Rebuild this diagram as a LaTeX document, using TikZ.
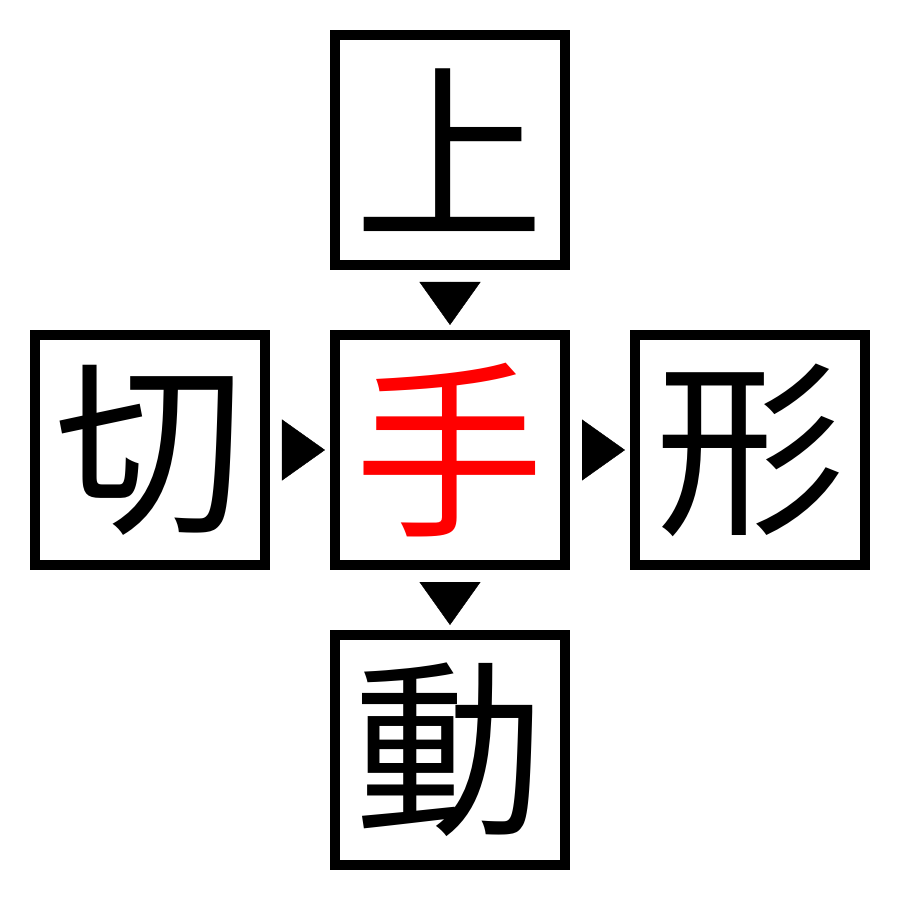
\documentclass[tikz,border=0pt]{standalone}
\usepackage{fontspec}
\newfontfamily\cjk{Noto Sans CJK JP}
\usetikzlibrary{positioning,arrows.meta}

\tikzset{
	kanji/.style={draw=black, line width=10pt, minimum size=230pt, inner sep=0pt,
		font=\cjk\fontsize{190}{190}\selectfont},
	pointer/.style={line width=0.4pt, shorten <=12pt, shorten >=5pt,
		-{Triangle[length=43pt,width=61pt]}}
}

\begin{document}
\begin{tikzpicture}[x=1pt,y=1pt,node distance=60pt]
		\useasboundingbox (-450,-450) rectangle (450,450);
		\node[kanji,text=red] (mid) at (0,0) {手};
		\node[kanji, above=of mid] (top) {上};
		\node[kanji, left=of mid] (left) {切};
		\node[kanji, right=of mid] (right) {形};
		\node[kanji, below=of mid] (bottom) {動};
		
		\draw[pointer] (top) -- (mid);
		\draw[pointer] (left) -- (left -| mid.west);
		\draw[pointer] (mid) -- (right);
		\draw[pointer] (mid) -- (bottom);
	\end{tikzpicture}
\end{document}
